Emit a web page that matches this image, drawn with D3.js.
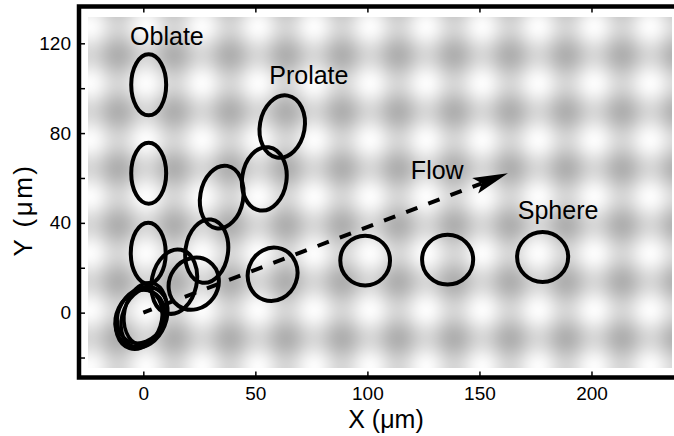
<!DOCTYPE html>
<html><head><meta charset="utf-8">
<script src="https://cdn.jsdelivr.net/npm/d3@7"></script>
<style>
html,body{margin:0;padding:0;background:#fff;}
svg{display:block;font-family:"Liberation Sans",Arial,Helvetica,sans-serif;}
</style></head><body>
<svg id="chart" width="674" height="436"></svg>
<script>
// ---- axes ----
const xDomain = [-28.7, 239.5];
const yDomain = [-28.9, 136.4];
const xTicks = [0, 50, 100, 150, 200];
const yTicks = [-20, 0, 20, 40, 60, 80, 100, 120];
const yTickLabels = [0, 40, 80, 120];
const xTitle = "X (\u03bcm)";
const yTitle = "Y (\u03bcm)";

// ---- cell outlines (µm) ----
const cellGroup = ["oblate","oblate","oblate",
  "start","start","start","start","start",
  "prolate","prolate","prolate","prolate","prolate","prolate",
  "sphere","sphere","sphere","sphere"];
const cellX  = [2.4, 2.4, 2.2,  -2.0, -0.5, 1.0, -1.5, 0.5,  13.8, 22.5, 28.3, 35.0, 54.0, 62.0,  57.7, 99.0, 135.8, 178.2];
const cellY  = [101.5, 62.1, 26.5,  -3.0, -1.0, -0.5, -2.5, -2.2,  13.8, 12.9, 27.4, 51.5, 59.6, 82.9,  17.1, 23.2, 23.6, 24.8];
const cellRx = [7.8, 7.8, 7.8,  10.0, 10.4, 9.4, 10.6, 9.8,  10.0, 10.8, 9.5, 9.6, 9.9, 10.0,  11.0, 11.1, 11.4, 11.4];
const cellRy = [13.6, 13.6, 13.6,  13.6, 13.2, 14.0, 13.0, 13.8,  14.5, 12.0, 14.2, 14.1, 14.2, 14.0,  12.0, 11.1, 11.1, 11.1];
const cellTilt = [0, 0, 0,  18, 30, 12, 26, 22,  12, 35, 8, 10, 8, 10,  20, 0, 0, 0];

// ---- annotations ----
const labelText = ["Oblate", "Prolate", "Flow", "Sphere"];
const labelX = [-5.9, 56.2, 119.4, 167.1];
const labelY = [119.1, 101.9, 59.4, 41.7];
const flowFrom = [0, 0];
const flowTo = [162.7, 62.1];

// ---- background lattice (µm) ----
const bgX = [-24.7, 235.8];
const bgY = [-24.8, 131.7];
const latticePeriod = [25.0, 25.25];
const latticeOrigin = [1.2, 1.1];
const latticeTone = [252, 176];

const svg = d3.select("#chart");
const x = d3.scaleLinear().domain(xDomain).range([79, 680]);
const y = d3.scaleLinear().domain(yDomain).range([377.5, 6.5]);

// background raster
(function(){
  const x0 = Math.round(x(bgX[0])), x1 = Math.round(x(bgX[1]));
  const y0 = Math.round(y(bgY[1])), y1 = Math.round(y(bgY[0]));
  const w = x1 - x0, h = y1 - y0;
  const cv = document.createElement("canvas");
  cv.width = w; cv.height = h;
  const ctx = cv.getContext("2d");
  const img = ctx.createImageData(w, h);
  const mid = (latticeTone[0] + latticeTone[1]) / 2;
  const amp = (latticeTone[0] - latticeTone[1]) / 4;
  for (let j = 0; j < h; j++) {
    const yd = y.invert(y0 + j + 0.5);
    const cy = Math.cos(2 * Math.PI * (yd - latticeOrigin[1]) / latticePeriod[1]);
    for (let i = 0; i < w; i++) {
      const xd = x.invert(x0 + i + 0.5);
      const cx = Math.cos(2 * Math.PI * (xd - latticeOrigin[0]) / latticePeriod[0]);
      const v = Math.round(mid + amp * (cx + cy));
      const k = 4 * (j * w + i);
      img.data[k] = v; img.data[k+1] = v; img.data[k+2] = v; img.data[k+3] = 255;
    }
  }
  ctx.putImageData(img, 0, 0);
  svg.append("image").attr("x", x0).attr("y", y0).attr("width", w).attr("height", h)
    .attr("href", cv.toDataURL());
})();

// flow arrow
(function(){
  const p0 = [x(flowFrom[0]), y(flowFrom[1])], p1 = [x(flowTo[0]), y(flowTo[1])];
  const dx = p1[0]-p0[0], dy = p1[1]-p0[1], len = Math.hypot(dx, dy);
  const ux = dx/len, uy = dy/len, nx = -uy, ny = ux;
  const headL = 35, headW = 8.4, notch = 7;
  const bx = p1[0]-headL*ux, by = p1[1]-headL*uy;
  const ex = p1[0]-(headL-notch)*ux, ey = p1[1]-(headL-notch)*uy;
  svg.append("line").attr("x1", p0[0]).attr("y1", p0[1]).attr("x2", ex).attr("y2", ey)
    .attr("stroke", "#000").attr("stroke-width", 4).attr("stroke-dasharray", "12 11.7")
    .attr("stroke-dashoffset", 3);
  svg.append("path")
    .attr("d", `M${p1[0]},${p1[1]}L${bx+headW*nx},${by+headW*ny}L${ex},${ey}L${bx-headW*nx},${by-headW*ny}Z`)
    .attr("fill", "#000");
})();

// cells
const cells = d3.range(cellX.length);
svg.append("g").selectAll("ellipse").data(cells).join("ellipse")
  .attr("transform", i => `translate(${x(cellX[i])},${y(cellY[i])}) rotate(${cellTilt[i]})`)
  .attr("rx", i => x(cellX[i] + cellRx[i]) - x(cellX[i]))
  .attr("ry", i => y(cellY[i]) - y(cellY[i] + cellRy[i]))
  .attr("fill", "none").attr("stroke", "#000").attr("stroke-width", i => cellGroup[i] === "start" ? 3.5 : 4);

// labels
svg.append("g").selectAll("text").data(labelText).join("text")
  .attr("x", (d, i) => x(labelX[i])).attr("y", (d, i) => y(labelY[i]))
  .attr("font-size", 25).attr("fill", "#000").text(d => d);

// axes
function styleAxis(g) {
  g.select(".domain").remove();
  g.attr("font-family", null).attr("font-size", 19);
  g.selectAll(".tick line").attr("stroke", "#000").attr("stroke-width", 1.5);
  g.selectAll(".tick text").attr("fill", "#000");
}
svg.append("g").attr("transform", `translate(${x.range()[0]},0)`)
  .call(d3.axisLeft(y).tickValues(yTicks).tickSizeInner(-6).tickSizeOuter(0).tickPadding(8)
    .tickFormat(d => yTickLabels.includes(d) ? d : ""))
  .call(styleAxis);
svg.append("g").attr("transform", `translate(0,${y.range()[0]})`)
  .call(d3.axisBottom(x).tickValues(xTicks).tickSizeInner(-6).tickSizeOuter(0).tickPadding(9.2))
  .call(styleAxis);
svg.append("g").attr("transform", `translate(0,${y.range()[1]})`)
  .call(d3.axisTop(x).tickValues(xTicks).tickSizeInner(-6).tickSizeOuter(0).tickFormat(""))
  .call(styleAxis);

// frame
const [fl, fr] = x.range(), [fb, ft] = y.range();
svg.append("path")
  .attr("d", `M${fl-2.25},${ft}H${fr+2.25}V${fb}H${fl-2.25}M${fl},${ft}V${fb}`)
  .attr("fill", "none").attr("stroke", "#000").attr("stroke-width", 4.5);

// titles
svg.append("text").attr("x", 386).attr("y", 428).attr("text-anchor", "middle")
  .attr("font-size", 25).attr("fill", "#000").text(xTitle);
svg.append("text").attr("transform", "translate(32,210) rotate(-90)").attr("text-anchor", "middle")
  .attr("font-size", 26).attr("letter-spacing", 2.5).attr("fill", "#000").text(yTitle);
</script>
</body></html>
